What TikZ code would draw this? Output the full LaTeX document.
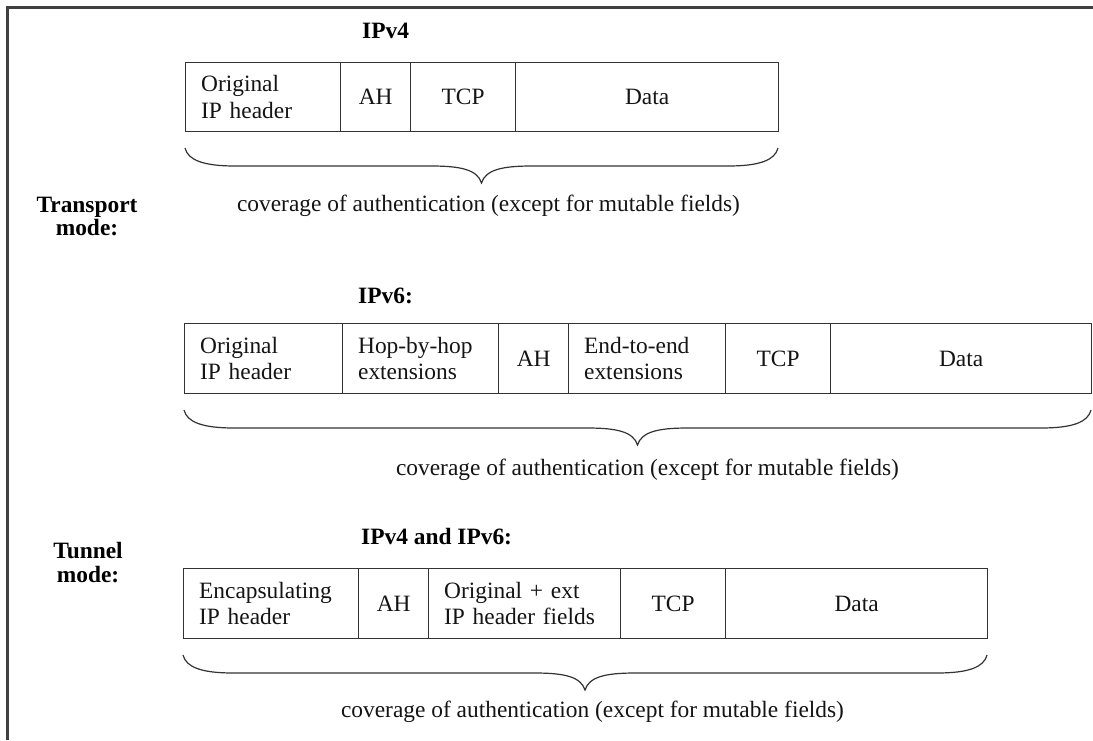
\documentclass[tikz,border=0pt]{standalone}
\usepackage{fontspec}
\setmainfont{Liberation Serif}
\usetikzlibrary{calc}

% Curly brace under a packet: #1 left x, #2 right x, #3 y of its two ends
\newcommand\authbrace[3]{%
  \pgfmathsetmacro\bracemid{(#1+#2)/2}%
  \draw[bracestyle] (#1,#3) .. controls (#1+3,#3+12) and (#1+18,#3+18) .. (#1+50,#3+18)
    -- (\bracemid-50,#3+18) .. controls (\bracemid-20,#3+18) and (\bracemid-4,#3+22) .. (\bracemid,#3+35)
    .. controls (\bracemid+4,#3+22) and (\bracemid+20,#3+18) .. (\bracemid+50,#3+18)
    -- (#2-50,#3+18) .. controls (#2-18,#3+18) and (#2-3,#3+12) .. (#2,#3);
}

\tikzset{
  base font/.style={font=\fontsize{23.4}{26.5}\selectfont},
  cellL/.style={draw=black!80, line width=1.3pt, rectangle, anchor=north west,
    inner xsep=15.5pt, inner ysep=0pt, align=left, minimum height=#1pt,
    base font, text=black!92},
  cellL/.default=69,
  cellC/.style={draw=black!80, line width=1.3pt, rectangle, anchor=north west,
    inner sep=0pt, align=center, minimum height=69pt, base font, text=black!92},
  title/.style={anchor=base west, inner sep=0pt,
    font=\fontsize{23.4}{26.5}\selectfont\bfseries, text=black},
  modelabel/.style={align=center, inner sep=0pt,
    font=\fontsize{23.4}{23.5}\selectfont\bfseries, text=black},
  caption/.style={anchor=base, inner sep=0pt, base font, text=black!92},
  bracestyle/.style={draw=black!80, line width=1.2pt},
  frame/.style={draw=black!75, line width=2.2pt}
}

\begin{document}
\begin{tikzpicture}[x=1pt,y=-1pt]
  \useasboundingbox (0,0) rectangle (1093,740);

  % page frame (top and left edges)
  \draw[frame] (1093,7.5) -- (7.5,7.5) -- (7.5,740);

  % mode labels
  \node[modelabel] (transport) at (87,216.5) {Transport\\mode:};
  \node[modelabel] (tunnel) at (88,562.5) {Tunnel\\mode:};

  % ---------- transport mode, IPv4 ----------
  \node[title] (t4) at (362,38) {IPv4};
  \node[cellL, text width=124pt] (a1) at (185,62) {Original\\IP header};
  \node[cellC, minimum width=70pt]  (a2) at (340,62) {AH};
  \node[cellC, minimum width=105pt] (a3) at (410,62) {TCP};
  \node[cellC, minimum width=263pt] (a4) at (515,62) {Data};
  \authbrace{185}{778}{148}
  \node[caption] (c4) at (488.5,211) {coverage of authentication (except for mutable fields)};

  % ---------- transport mode, IPv6 ----------
  \node[title] (t6) at (358,303) {IPv6:};
  \node[cellL=70, text width=127pt] (b1) at (184,323) {Original\\IP header};
  \node[cellL=70, text width=125pt] (b2) at (342,323) {Hop-by-hop\\extensions};
  \node[cellC, minimum height=70pt, minimum width=70pt]  (b3) at (498,323) {AH};
  \node[cellL=70, text width=126pt] (b4) at (568,323) {End-to-end\\extensions};
  \node[cellC, minimum height=70pt, minimum width=105pt] (b5) at (725,323) {TCP};
  \node[cellC, minimum height=70pt, minimum width=261pt] (b6) at (830,323) {Data};
  \authbrace{184}{1091}{410}
  \node[caption] (c6) at (647.5,475) {coverage of authentication (except for mutable fields)};

  % ---------- tunnel mode ----------
  \node[title] (t46) at (361,544) {IPv4 and IPv6:};
  \node[cellL=70, text width=144pt] (d1) at (183,568) {Encapsulating\\IP header};
  \node[cellC, minimum height=70pt, minimum width=70pt]  (d2) at (358,568) {AH};
  \node[cellL=70, text width=161pt] (d3) at (428,568) {Original + ext\\IP header fields};
  \node[cellC, minimum height=70pt, minimum width=105pt] (d4) at (620,568) {TCP};
  \node[cellC, minimum height=70pt, minimum width=262pt] (d5) at (725,568) {Data};
  \authbrace{183}{987}{655}
  \node[caption] (c46) at (592.5,717) {coverage of authentication (except for mutable fields)};
\end{tikzpicture}
\end{document}
